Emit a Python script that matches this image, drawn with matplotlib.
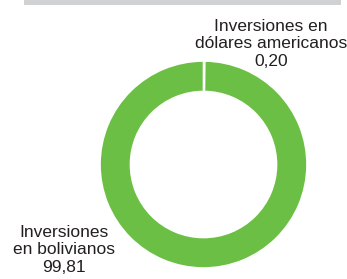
import matplotlib.pyplot as plt
from matplotlib.patches import Rectangle

plt.rcParams["font.family"] = ["Liberation Sans", "DejaVu Sans"]

categories = ["Inversiones en\ndólares americanos", "Inversiones\nen bolivianos"]
values = [0.20, 99.81]
value_labels = ["0,20", "99,81"]

W, H = 347, 279
fig = plt.figure(figsize=(W / 100, H / 100), dpi=100)
ax = fig.add_axes([0, 0, 1, 1])

green = "#6cbf45"
ax.pie(values, colors=[green, green], startangle=90, counterclock=False,
       center=(203.5, H - 164.5), radius=103.5,
       wedgeprops=dict(width=30.5, edgecolor="white", linewidth=1.2))

ax.set_xlim(0, W)
ax.set_ylim(0, H)
ax.set_aspect("equal")
ax.axis("off")

# grey band left over from the page above
ax.add_patch(Rectangle((24, H - 4.5), 317, 4.5, color="#d0d1d3", lw=0))

ax.text(271, H - 44, f"{categories[0]}\n{value_labels[0]}", ha="center", va="center",
        fontsize=12.5, color="#231f20", linespacing=1.2)
ax.text(64, H - 250, f"{categories[1]}\n{value_labels[1]}", ha="center", va="center",
        fontsize=12.5, color="#231f20", linespacing=1.2)

fig.savefig("out.png", dpi=100)
